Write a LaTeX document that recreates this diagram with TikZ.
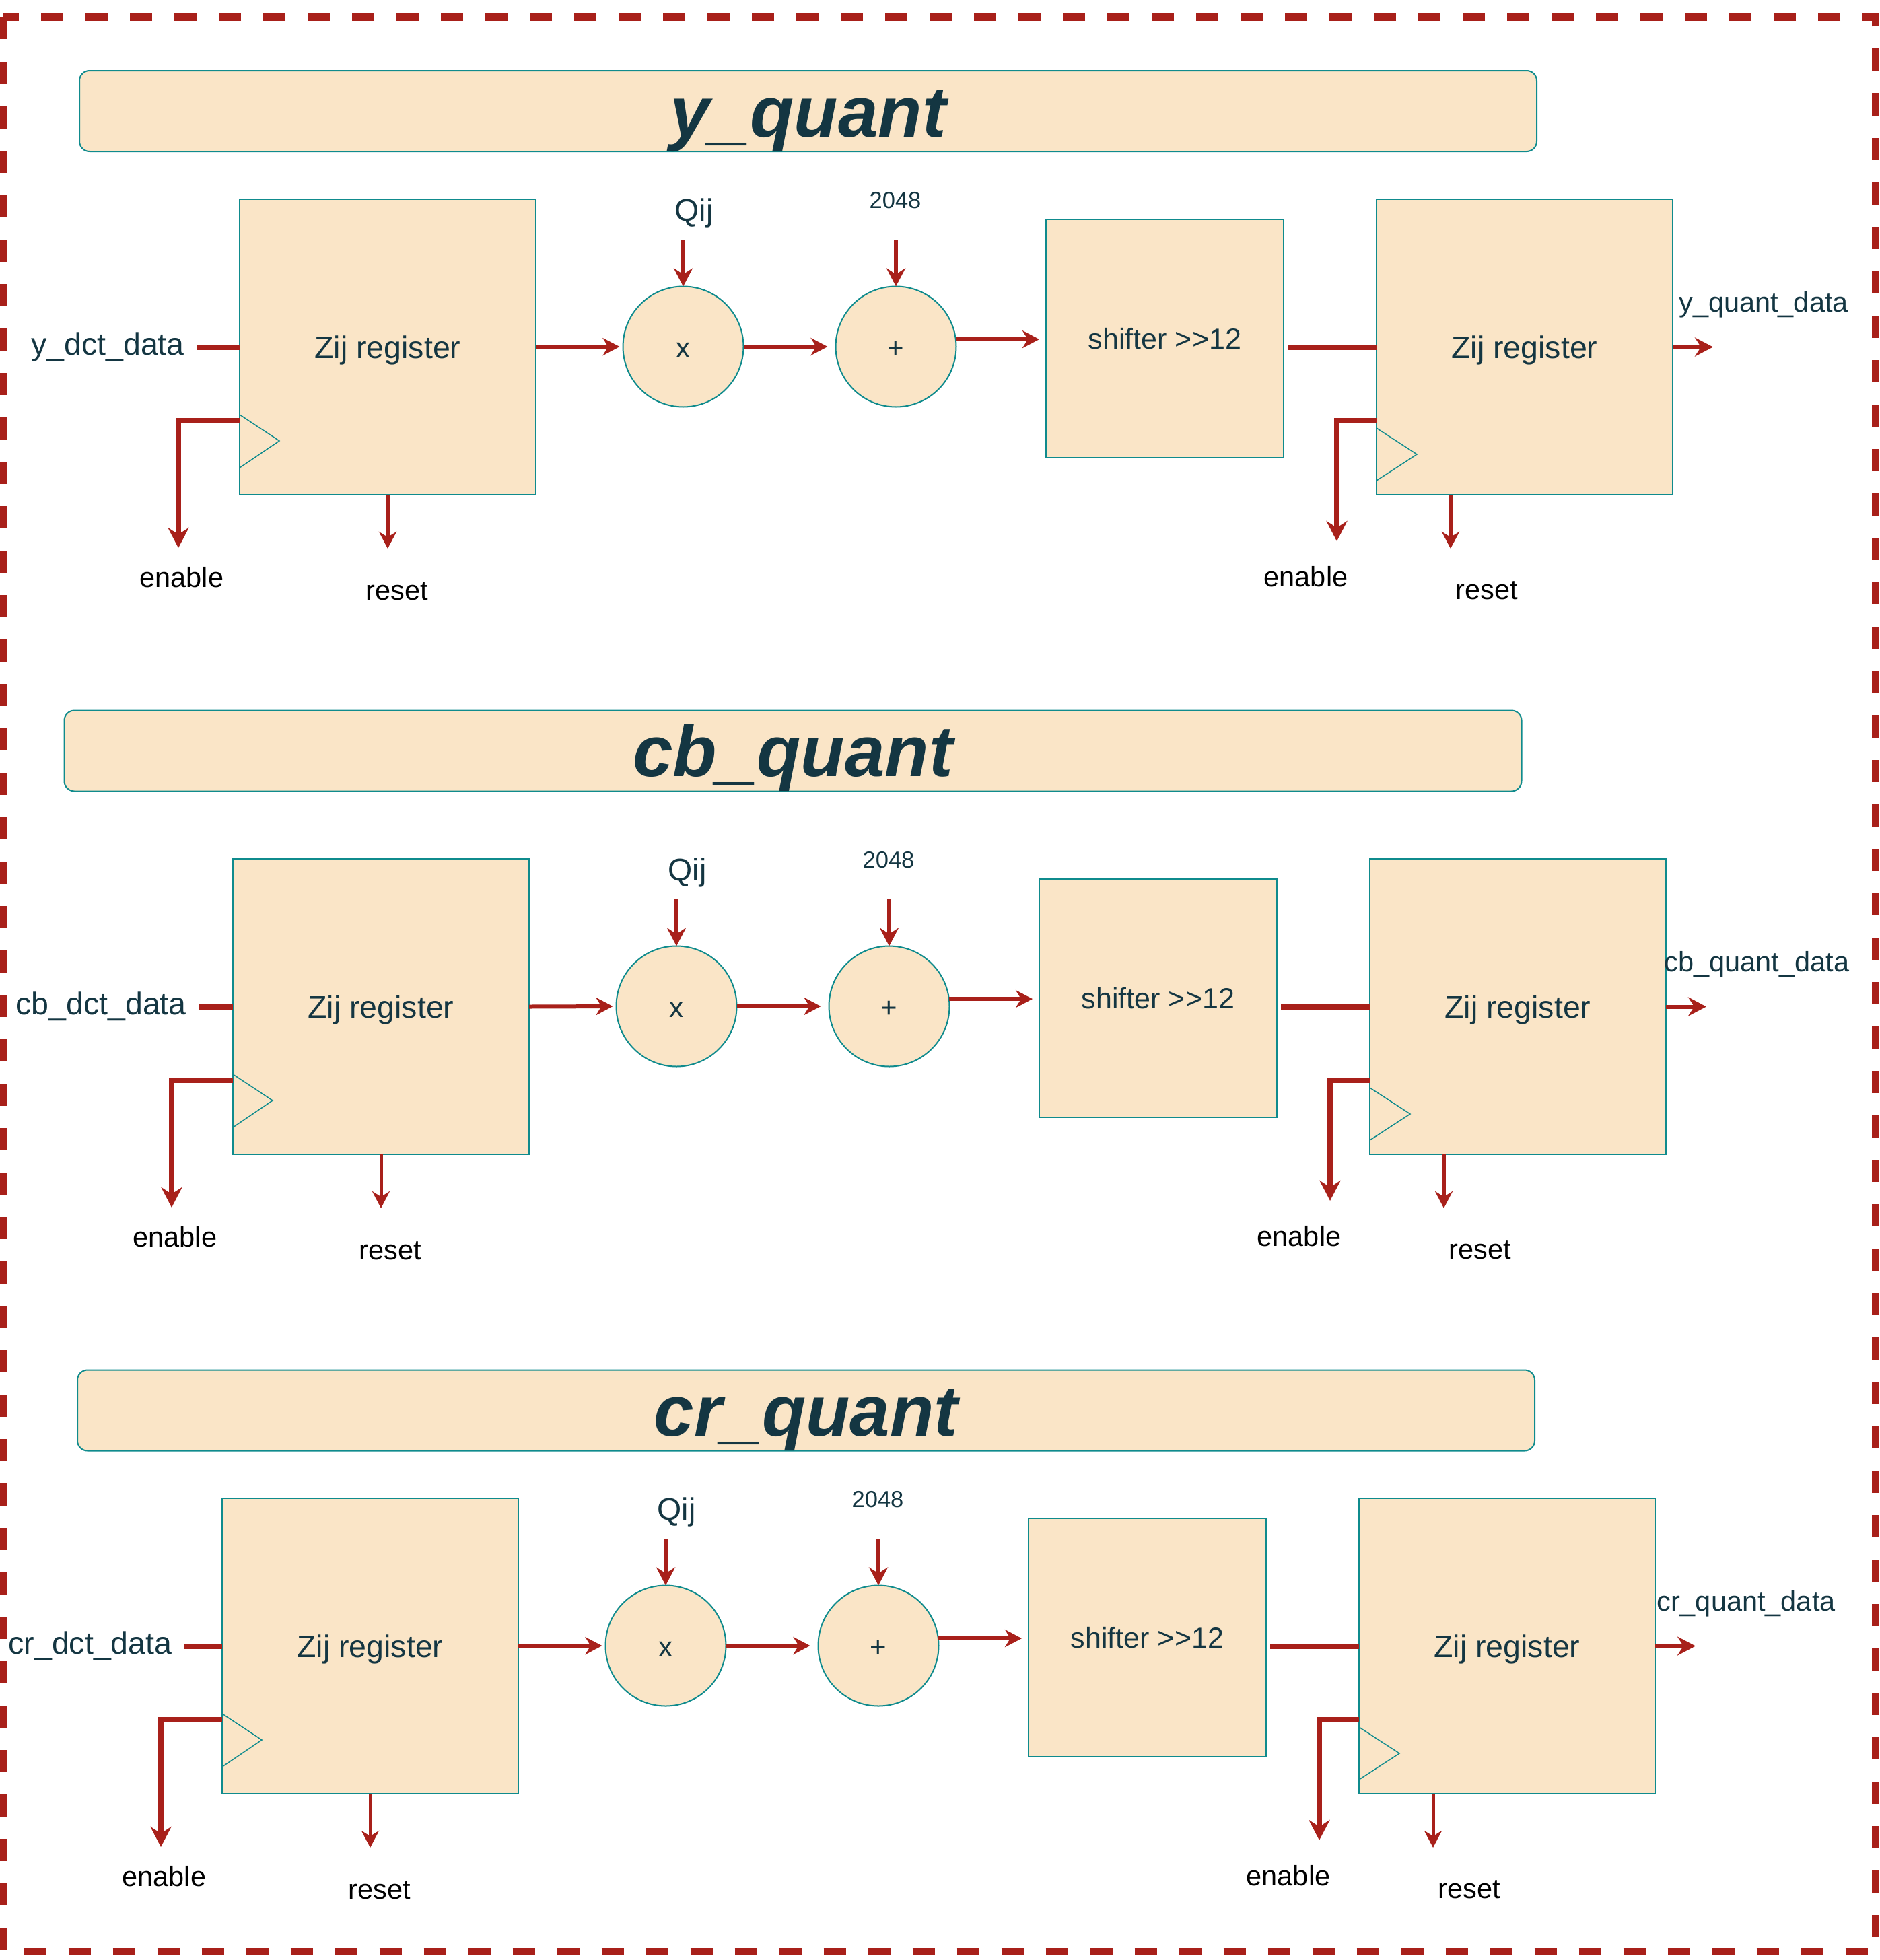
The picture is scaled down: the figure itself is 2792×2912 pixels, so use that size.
\documentclass[tikz,border=0pt]{standalone}
\usepackage{fontspec}
\setmainfont{Liberation Sans}
\usetikzlibrary{arrows.meta}
\definecolor{ink}{HTML}{143642}
\definecolor{tealc}{HTML}{0F8B8D}
\definecolor{fillc}{HTML}{FAE5C7}
\definecolor{wirec}{HTML}{A8201A}
\tikzset{
  box/.style={draw=tealc, fill=fillc, line width=2pt, inner sep=0pt, outer sep=0pt, text=ink},
  reg/.style={box, minimum width=440pt, minimum height=439pt, font=\fontsize{46.5}{55}\selectfont, text height=33pt, text depth=0pt},
  shf/.style={box, minimum width=353pt, minimum height=354pt, font=\fontsize{43}{51}\selectfont, text height=31pt, text depth=0pt},
  opc/.style={box, circle, minimum size=179pt, font=\fontsize{42}{50}\selectfont, text height=32pt, text depth=0pt},
  titlebox/.style={box, rounded corners=15pt, minimum width=2165pt, minimum height=120pt, font=\fontsize{107}{124}\selectfont\bfseries\itshape, text height=76pt, text depth=0pt},
  clk/.style={draw=tealc, line width=1.5pt},
  lbl/.style={inner sep=0pt, outer sep=0pt, anchor=base, text=ink},
  biglbl/.style={lbl, font=\fontsize{46.5}{55}\selectfont},
  sig/.style={inner sep=0pt, outer sep=0pt, anchor=base, text=black, font=\fontsize{41.5}{49}\selectfont},
  wthick/.style={draw=wirec, line width=8pt},
  wmed/.style={draw=wirec, line width=6pt},
  wthin/.style={draw=wirec, line width=5pt},
  headm/.style={-{Stealth[length=25pt,width=26pt,inset=8pt]}},
  heade/.style={-{Stealth[length=30pt,width=31pt,inset=10pt]}},
  headq/.style={-{Stealth[length=27pt,width=28pt,inset=9pt]}},
  border/.style={draw=wirec, line width=11pt, dash pattern=on 33pt off 33pt}
}
\newcommand\quantrow[5]{%
\begin{scope}[shift={(#2,#3)}]
  \node[reg] (#1R1) at (576,515.5) {Zij register};
  \draw[clk] (356,616) -- (415,655) -- (356,695);
  \node[reg] (#1R2) at (2265,515.5) {Zij register};
  \draw[clk] (2045,636) -- (2105,675) -- (2045,714);
  \node[opc] (#1X) at (1015,515) {x};
  \node[opc] (#1P) at (1331,515) {+};
  \node[shf] (#1S) at (1730.5,503) {shifter >{}>12};
  % input
  \node[biglbl] (#1In) at (160,527) {#4};
  \draw[wthick, shorten <=19pt] (#1In.east |- #1R1.west) -- (#1R1.west);
  % enable / reset of first register
  \coordinate (#1EnB) at (265,625);
  \coordinate (#1EnE) at (265,814);
  \draw[wthick, heade] (#1R1.west |- #1EnB) -- (#1EnB) -- (#1EnE);
  \node[sig] (#1EnL) at (270,872) {enable};
  \coordinate (#1RsE) at (576,815);
  \draw[wthin, headm] (#1R1.south) -- (#1RsE);
  \node[sig] (#1RsL) at (590,891) {reset};
  % data path
  \draw[wmed, headm, shorten >=5pt] (#1R1.east) -- (#1X.west);
  \node[biglbl] (#1Q) at (1031,328) {Qij};
  \coordinate (#1Qs) at (1015,356);
  \draw[wmed, headq] (#1Qs) -- (#1X.north);
  \node[lbl, font=\fontsize{34.5}{41}\selectfont] (#1K) at (1330,309) {2048};
  \coordinate (#1Ks) at (1331,356);
  \draw[wmed, headq] (#1Ks) -- (#1P.north);
  \draw[wmed, headm, shorten >=12pt] (#1X.east) -- (#1P.west);
  \draw[wmed, headm, shorten >=10pt] (#1P.7) -- (#1P.7 -| #1S.west);
  \draw[wthick, shorten <=6pt] (#1S.east |- #1R2.west) -- (#1R2.west);
  % enable / reset of second register
  \coordinate (#1EnB2) at (1986,625);
  \coordinate (#1EnE2) at (1986,804);
  \draw[wthick, heade] (#1R2.west |- #1EnB2) -- (#1EnB2) -- (#1EnE2);
  \node[sig] (#1EnL2) at (1940,871) {enable};
  \coordinate (#1RsE2) at (2155,815);
  \draw[wthin, headm] (#1R2.south -| #1RsE2) -- (#1RsE2);
  \node[sig] (#1RsL2) at (2209,890) {reset};
  % output
  \coordinate (#1Out) at (2545,515.5);
  \draw[wmed, headq] (#1R2.east) -- (#1Out);
  \node[lbl, font=\fontsize{41.5}{49}\selectfont] (#1OutL) at (2620,463) {#5};
\end{scope}}
\begin{document}
\begin{tikzpicture}[x=1pt,y=-1pt]
  \useasboundingbox (0,0) rectangle (2792,2912);
  \draw[border] (5,25.5) rectangle (2786,2899);
  \node[titlebox] (tY) at (1200.5,165) {y\_quant};
  \node[titlebox] (tCb) at (1178,1115.5) {cb\_quant};
  \node[titlebox] (tCr) at (1197.5,2095.5) {cr\_quant};
  \quantrow{y}{0}{0}{y\_dct\_data}{y\_quant\_data}
  \quantrow{cb}{-10}{980}{cb\_dct\_data}{cb\_quant\_data}
  \quantrow{cr}{-26}{1930}{cr\_dct\_data}{cr\_quant\_data}
\end{tikzpicture}
\end{document}
